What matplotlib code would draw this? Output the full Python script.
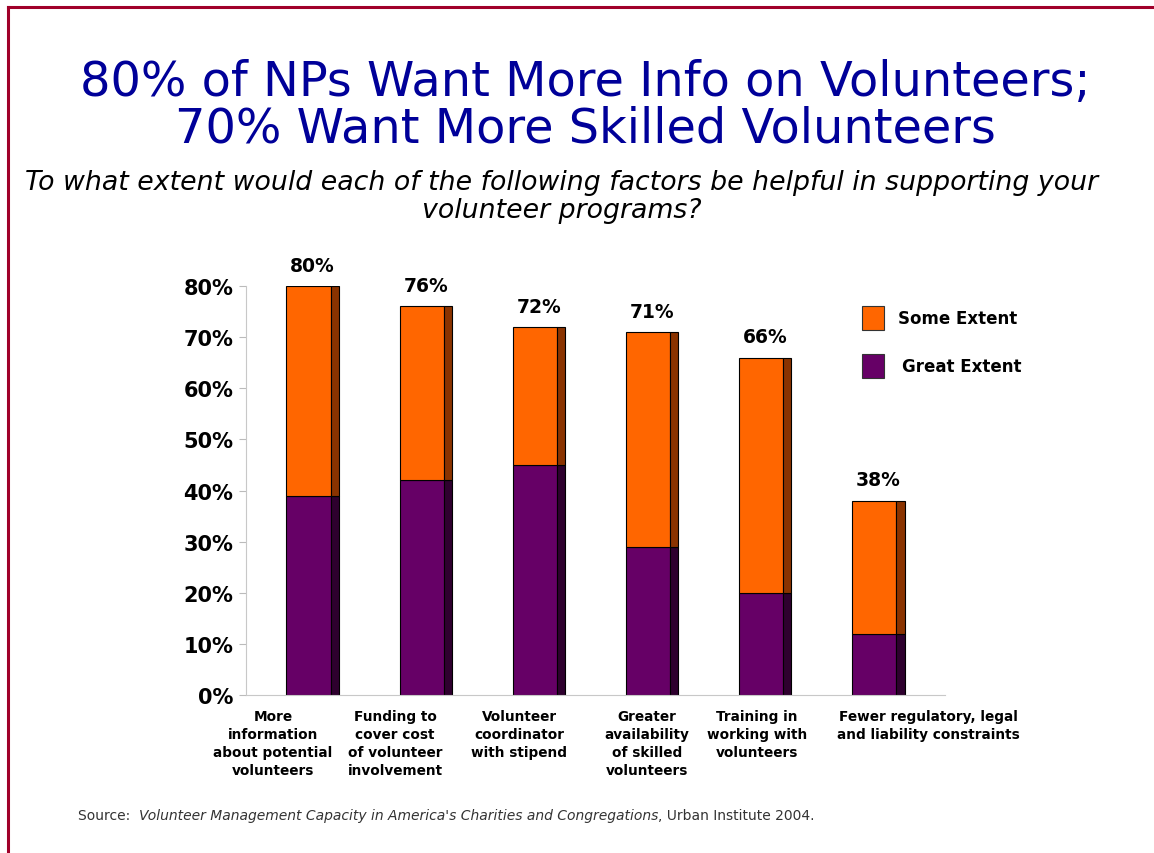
import matplotlib.pyplot as plt
from matplotlib.lines import Line2D
from matplotlib.patches import Rectangle
import numpy as np

# Survey results (% of nonprofits)
categories = [
    "More\ninformation\nabout potential\nvolunteers",
    "Funding to\ncover cost\nof volunteer\ninvolvement",
    "Volunteer\ncoordinator\nwith stipend",
    "Greater\navailability\nof skilled\nvolunteers",
    "Training in\nworking with\nvolunteers",
    "Fewer regulatory, legal\nand liability constraints",
]
great_extent = [39, 42, 45, 29, 20, 12]
total_helpful = [80, 76, 72, 71, 66, 38]
some_extent = [t - g for t, g in zip(total_helpful, great_extent)]
yticks = [0, 10, 20, 30, 40, 50, 60, 70, 80]

ORANGE = "#FF6600"
ORANGE_SIDE = "#8A3300"
PURPLE = "#660066"
PURPLE_SIDE = "#2E002E"
TITLE_BLUE = "#000099"

W, H = 1154, 854
fig = plt.figure(figsize=(W / 100, H / 100), dpi=100)
fig.patch.set_facecolor("white")

# dark red frame along top and left
fig.add_artist(Line2D([8 / W, 8 / W], [0, 1 - 8 / H], color="#A0002A", lw=2.2))
fig.add_artist(Line2D([8 / W, 1], [1 - 8 / H, 1 - 8 / H], color="#A0002A", lw=2.2))

fig.text(0.507, 1 - 106 / H, "80% of NPs Want More Info on Volunteers;\n70% Want More Skilled Volunteers",
         ha="center", va="center", fontsize=34.5, color=TITLE_BLUE, linespacing=0.98)
fig.text(0.487, 1 - 197 / H, "To what extent would each of the following factors be helpful in supporting your\nvolunteer programs?",
         ha="center", va="center", fontsize=19.3, style="italic", color="black", linespacing=1.12)

ax_l, ax_r, ax_b, ax_t = 246, 945, 696, 287
ax = fig.add_axes([ax_l / W, 1 - ax_b / H, (ax_r - ax_l) / W, (ax_b - ax_t) / H])

x = np.arange(len(categories))
front_w = 0.39
side_w = 0.075
left = x - (front_w + side_w) / 2

# front faces
ax.bar(left, great_extent, width=front_w, align="edge", color=PURPLE, edgecolor="black", linewidth=0.8)
ax.bar(left, some_extent, width=front_w, bottom=great_extent, align="edge",
       color=ORANGE, edgecolor="black", linewidth=0.8)
# darker side strips give the bars depth
ax.bar(left + front_w, great_extent, width=side_w, align="edge", color=PURPLE_SIDE,
       edgecolor="black", linewidth=0.8)
ax.bar(left + front_w, some_extent, width=side_w, bottom=great_extent, align="edge",
       color=ORANGE_SIDE, edgecolor="black", linewidth=0.8)

for xi, t in zip(x, total_helpful):
    ax.text(xi, t + 2.2, f"{t}%", ha="center", va="bottom",
            fontsize=13.5, fontweight="bold")

ax.set_xlim(-0.59, 5.59)
ax.set_ylim(0, 80)
ax.set_yticks(yticks)
ax.set_yticklabels([f"{v}%" for v in yticks], fontsize=15, fontweight="bold")
ax.tick_params(axis="y", length=5, color="#BBBBBB", pad=4)
ax.set_xticks([])
for s in ["top", "right"]:
    ax.spines[s].set_visible(False)
ax.spines["left"].set_color("#C8C8C8")
ax.spines["bottom"].set_color("#C8C8C8")
ax.set_facecolor("white")

# category captions sit in a row under the baseline
label_px = [273, 395, 519, 647, 757, 928]
for px, lab in zip(label_px, categories):
    fig.text(px / W, 1 - 710 / H, lab, ha="center", va="top", fontsize=9.8,
             fontweight="bold", linespacing=1.36)

# legend drawn as figure-level patches
fig.add_artist(Rectangle((862 / W, 1 - 331 / H), 22 / W, 24 / H,
                         facecolor=ORANGE, edgecolor="#333333", lw=0.8))
fig.add_artist(Rectangle((862 / W, 1 - 379 / H), 22 / W, 24 / H,
                         facecolor=PURPLE, edgecolor="#333333", lw=0.8))
fig.text(898 / W, 1 - 319 / H, "Some Extent", fontsize=12, fontweight="bold", va="center")
fig.text(902 / W, 1 - 367 / H, "Great Extent", fontsize=12, fontweight="bold", va="center")

# source line: plain / italic / plain
src_y = 1 - 816 / H
fs = 10
t1 = fig.text(78 / W, src_y, "Source:  ", fontsize=fs, color="#333333", va="center")
fig.canvas.draw()
r = fig.canvas.get_renderer()
bb = t1.get_window_extent(r)
t2 = fig.text(bb.x1 / fig.bbox.width, src_y,
              "Volunteer Management Capacity in America's Charities and Congregations",
              fontsize=fs, style="italic", color="#333333", va="center")
bb2 = t2.get_window_extent(r)
fig.text(bb2.x1 / fig.bbox.width, src_y, ", Urban Institute 2004.",
         fontsize=fs, color="#333333", va="center")

fig.savefig("out.png", dpi=100, facecolor="white")
